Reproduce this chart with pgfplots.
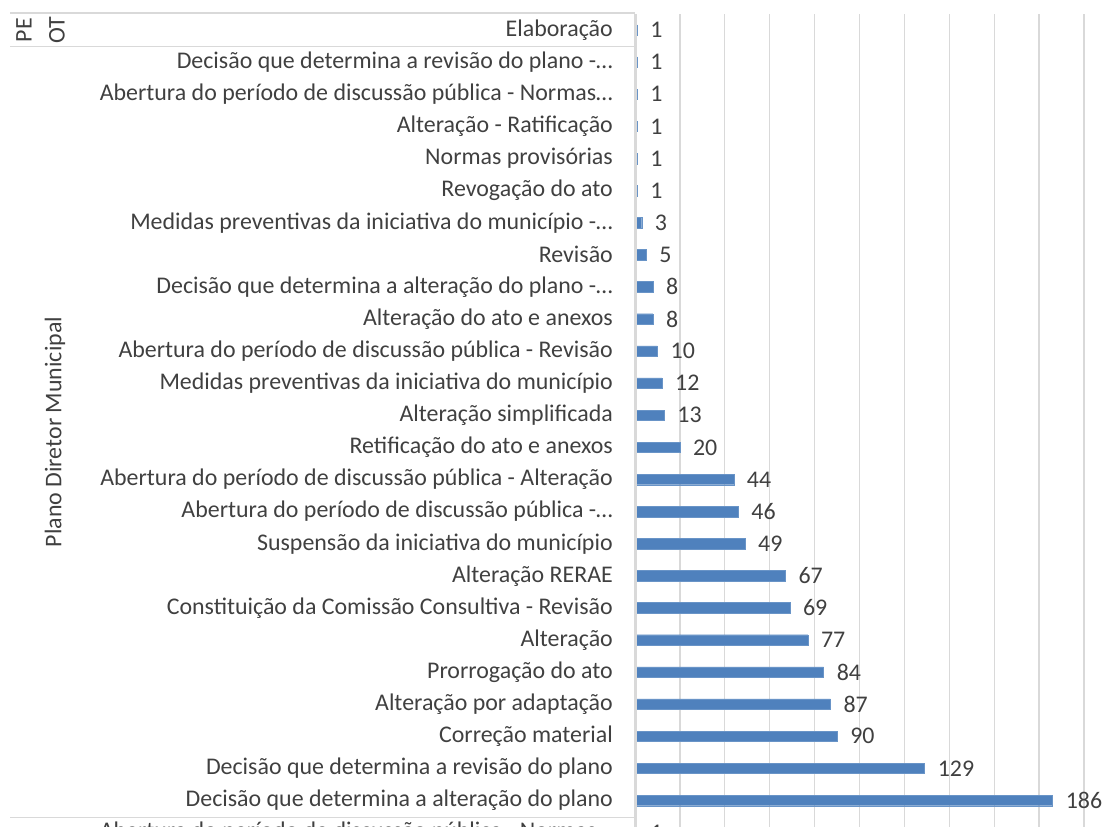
\documentclass[border=0pt]{standalone}
\usepackage{pgfplots}
\pgfplotsset{compat=1.18}
\usepackage{pgfplotstable}
\usepackage{fontspec}
\setmainfont{Carlito}
\definecolor{barblue}{HTML}{4F81BD}
\definecolor{gridgray}{HTML}{D9D9D9}
\definecolor{txt}{HTML}{404040}
\pgfplotstableread{
i v
0 1
1 1
2 1
3 1
4 1
5 1
6 3
7 5
8 8
9 8
10 10
11 12
12 13
13 20
14 44
15 46
16 49
17 67
18 69
19 77
20 84
21 87
22 90
23 129
24 186
25 1
}\datatable
\newcommand{\lf}{\fontsize{24}{24}\selectfont}
\begin{document}
\begin{tikzpicture}[x=1bp,y=1bp]
\path[use as bounding box] (0,0) rectangle (1107,-827);
\clip (0,0) rectangle (1107,-827);
\begin{axis}[
  at={(635bp,-14bp)}, anchor=north west,
  scale only axis, width=449bp, height=834.6bp,
  xmin=0, xmax=200, ymin=-0.5, ymax=25.5, y dir=reverse,
  xbar, bar width=10.5bp, bar shift=0pt,
  xtick={20,40,...,200}, xticklabels={}, xmajorgrids,
  grid style={gridgray, line width=1.3bp},
  ytick={0,...,25},
  yticklabels={Elaboração,
    Decisão que determina a revisão do plano -…,
    Abertura do período de discussão pública - Normas…,
    Alteração - Ratificação,
    Normas provisórias,
    Revogação do ato,
    Medidas preventivas da iniciativa do município -…,
    Revisão,
    Decisão que determina a alteração do plano -…,
    Alteração do ato e anexos,
    Abertura do período de discussão pública - Revisão,
    Medidas preventivas da iniciativa do município,
    Alteração simplificada,
    Retificação do ato e anexos,
    Abertura do período de discussão pública - Alteração,
    Abertura do período de discussão pública -…,
    Suspensão da iniciativa do município,
    Alteração RERAE,
    Constituição da Comissão Consultiva - Revisão,
    Alteração,
    Prorrogação do ato,
    Alteração por adaptação,
    Correção material,
    Decisão que determina a revisão do plano,
    Decisão que determina a alteração do plano,
    Abertura do período de discussão pública - Normas…},
  major tick length=0pt,
  axis line style={draw=none},
  /pgf/number format/assume math mode=true,
  yticklabel style={font=\lf, text=txt, inner sep=0pt, xshift=-22bp, anchor=east},
  nodes near coords,
  nodes near coords style={font=\lf, text=txt, anchor=west, inner sep=0pt, xshift=13bp},
  point meta=x,
  clip=false,
]
\addplot[fill=barblue, draw=barblue!85!white] table[x=v,y=i] {\datatable};
\draw[gridgray, line width=3bp] (axis cs:0,-0.5) -- (axis cs:0,26);
\end{axis}
\draw[gridgray, line width=1.5bp] (10,-13) -- (635,-13);
\draw[gridgray, line width=1.5bp] (10,-46.5) -- (635,-46.5);
\draw[gridgray, line width=1.5bp] (10,-817.5) -- (635,-817.5);
\node[rotate=90, font=\lf, text=txt, inner sep=0pt] at (24,-30) {PE};
\node[rotate=90, font=\lf, text=txt, inner sep=0pt] at (57,-30) {OT};
\node[rotate=90, font=\lf, text=txt, inner sep=0pt] at (55,-432) {Plano Diretor Municipal};
\end{tikzpicture}
\end{document}
